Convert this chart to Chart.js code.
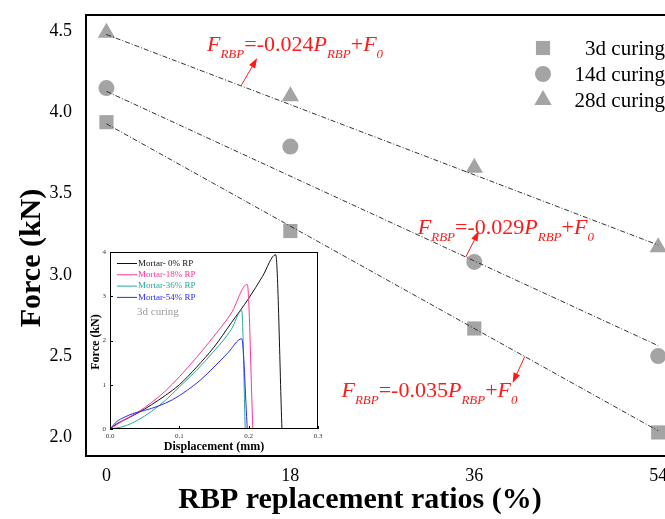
<!DOCTYPE html>
<html>
<head>
<meta charset="utf-8">
<script src="https://cdn.jsdelivr.net/npm/chart.js@4/dist/chart.umd.min.js"></script>
<style>
  html, body { margin: 0; padding: 0; background: #fff; overflow: hidden; width: 665px; height: 519px; }
  #wrap { position: relative; width: 705px; height: 519px; }
  #main { position: absolute; left: 0; top: 0; }
  #inset { position: absolute; left: 88px; top: 244px; }
</style>
</head>
<body>
<div id="wrap">
  <canvas id="main" width="705" height="519"></canvas>
  <canvas id="inset" width="234" height="212"></canvas>
</div>
<script>
// peak force (kN) against RBP replacement ratio (%), one series per curing age
const ratios = [0, 18, 36, 54];
const force3d = [3.94, 3.27, 2.67, 2.03];
const force14d = [4.15, 3.79, 3.08, 2.50];
const force28d = [4.49, 4.10, 3.66, 3.17];
const curingLabels = ['3d curing', '14d curing', '28d curing'];

// linear fits F = k * P + F0
const fitSlopes = [-0.035, -0.029, -0.024];
const fitIntercepts = [3.93, 4.13, 4.48];
const fitRange = [0, 54];
const slopeText = ['-0.035', '-0.029', '-0.024'];

const xTicks = [0, 18, 36, 54];
const yTicks = [2.0, 2.5, 3.0, 3.5, 4.0, 4.5];

// inset: load-displacement curves at 3d curing
const mixLabels = ['Mortar- 0% RP', 'Mortar-18% RP', 'Mortar-36% RP', 'Mortar-54% RP'];
const disp0 = [0, 0.01, 0.02, 0.04, 0.06, 0.08, 0.1, 0.125, 0.15, 0.175, 0.2, 0.22, 0.239, 0.248];
const load0 = [0, 0.12, 0.2, 0.36, 0.55, 0.76, 1.0, 1.4, 1.85, 2.4, 2.95, 3.45, 3.94, 0];
const disp18 = [0, 0.02, 0.04, 0.06, 0.08, 0.1, 0.125, 0.15, 0.175, 0.198, 0.206];
const load18 = [0, 0.2, 0.38, 0.6, 0.86, 1.18, 1.62, 2.1, 2.62, 3.27, 0];
const disp36 = [0, 0.02, 0.04, 0.06, 0.08, 0.1, 0.125, 0.15, 0.175, 0.19, 0.195];
const load36 = [0, 0.06, 0.2, 0.4, 0.65, 0.95, 1.33, 1.76, 2.25, 2.68, 0];
const disp54 = [0, 0.01, 0.02, 0.035, 0.05, 0.07, 0.09, 0.11, 0.13, 0.15, 0.17, 0.19, 0.198];
const load54 = [0, 0.17, 0.26, 0.36, 0.42, 0.52, 0.66, 0.86, 1.1, 1.4, 1.72, 2.04, 0];
const insetXTicks = [0, 0.1, 0.2, 0.3];
const insetYTicks = [0, 1, 2, 3, 4];

const SERIF = '"Liberation Serif", "Times New Roman", serif';
const MARK = '#a4a4a4';
const RED = '#ff1a1a';

const toPts = (xs, ys) => xs.map((x, i) => ({ x: x, y: ys[i] }));
const fitLine = i => fitRange.map(p => ({ x: p, y: fitIntercepts[i] + fitSlopes[i] * p }));

// keep label overhang from shrinking the plot area
const noPad = s => { s.paddingLeft = 0; s.paddingRight = 0; s.paddingTop = 0; s.paddingBottom = 0; };

const fitStyle = {
  showLine: true, pointRadius: 0, borderColor: '#333', borderWidth: 1,
  borderDash: [5, 2, 1, 2], order: 0
};

// equation labels: [P, F] of the text baseline, arrow tail and head
const eqPos = [[23.0, 2.246], [30.47, 3.25], [9.84, 4.377]];
const arrowTail = [[40.94, 2.497], [35.17, 3.11], [13.17, 4.164]];
const arrowHead = [[39.75, 2.335], [36.45, 3.27], [14.75, 4.335]];

function drawArrow(ctx, x1, y1, x2, y2) {
  const a = Math.atan2(y2 - y1, x2 - x1);
  const len = 10, w = 3.5;
  ctx.beginPath();
  ctx.moveTo(x1, y1);
  ctx.lineTo(x2 - Math.cos(a) * len * 0.8, y2 - Math.sin(a) * len * 0.8);
  ctx.stroke();
  ctx.beginPath();
  ctx.moveTo(x2, y2);
  ctx.lineTo(x2 - Math.cos(a) * len - Math.sin(a) * w, y2 - Math.sin(a) * len + Math.cos(a) * w);
  ctx.lineTo(x2 - Math.cos(a) * len + Math.sin(a) * w, y2 - Math.sin(a) * len - Math.cos(a) * w);
  ctx.closePath();
  ctx.fill();
}

function drawEquation(ctx, x, y, slope) {
  const parts = [
    { t: 'F', it: true }, { t: 'RBP', it: true, sub: true }, { t: '=' + slope },
    { t: 'P', it: true }, { t: 'RBP', it: true, sub: true }, { t: '+' },
    { t: 'F', it: true }, { t: '0', it: true, sub: true }
  ];
  ctx.textAlign = 'left';
  ctx.textBaseline = 'alphabetic';
  parts.forEach(p => {
    const size = p.sub ? 13 : 22;
    ctx.font = (p.it ? 'italic ' : '') + size + 'px ' + SERIF;
    ctx.fillText(p.t, x, p.sub ? y + 7 : y);
    x += ctx.measureText(p.t).width;
  });
}

const mainDecor = {
  id: 'mainDecor',
  afterDraw(chart) {
    const { ctx, chartArea: ca, scales } = chart;
    const sx = scales.x, sy = scales.y;
    ctx.save();

    // frame
    ctx.strokeStyle = '#000';
    ctx.lineWidth = 2;
    ctx.strokeRect(ca.left, ca.top, ca.right - ca.left, ca.bottom - ca.top);

    // legend
    const pointSets = chart.data.datasets.filter(d => !d.showLine);
    pointSets.forEach((d, i) => {
      const y = ca.top + 33 + i * 26;
      ctx.fillStyle = MARK;
      Chart.helpers.drawPoint(ctx, { pointStyle: d.pointStyle, radius: d.pointRadius, rotation: 0, borderWidth: 0 }, 543, y);
      ctx.fillStyle = '#000';
      ctx.font = '21px ' + SERIF;
      ctx.textAlign = 'right';
      ctx.textBaseline = 'middle';
      ctx.fillText(d.label, 665, y + 1);
    });

    // fit equations with arrows
    ctx.fillStyle = RED;
    ctx.strokeStyle = RED;
    ctx.lineWidth = 1;
    slopeText.forEach((s, i) => {
      drawEquation(ctx, sx.getPixelForValue(eqPos[i][0]), sy.getPixelForValue(eqPos[i][1]), s);
      drawArrow(ctx,
        sx.getPixelForValue(arrowTail[i][0]), sy.getPixelForValue(arrowTail[i][1]),
        sx.getPixelForValue(arrowHead[i][0]), sy.getPixelForValue(arrowHead[i][1]));
    });

    // axis titles
    ctx.fillStyle = '#000';
    ctx.font = 'bold 30px ' + SERIF;
    ctx.textAlign = 'center';
    ctx.textBaseline = 'middle';
    ctx.fillText('RBP replacement ratios (%)', 360, 500);
    ctx.translate(32, 258);
    ctx.rotate(-Math.PI / 2);
    ctx.fillText('Force (kN)', 0, 0);
    ctx.restore();
  }
};

new Chart(document.getElementById('main'), {
  type: 'scatter',
  data: {
    datasets: [
      Object.assign({ data: fitLine(0) }, fitStyle),
      Object.assign({ data: fitLine(1) }, fitStyle),
      Object.assign({ data: fitLine(2) }, fitStyle),
      { label: curingLabels[0], data: toPts(ratios, force3d), pointStyle: 'rect', pointRadius: 10,
        backgroundColor: MARK, borderWidth: 0, order: 1 },
      { label: curingLabels[1], data: toPts(ratios, force14d), pointStyle: 'circle', pointRadius: 8,
        backgroundColor: MARK, borderWidth: 0, order: 1 },
      { label: curingLabels[2], data: toPts(ratios, force28d), pointStyle: 'triangle', pointRadius: 10,
        backgroundColor: MARK, borderWidth: 0, order: 1 }
    ]
  },
  options: {
    responsive: false,
    animation: false,
    layout: { padding: { top: 15, right: 6, left: 0, bottom: 0 } },
    plugins: { legend: { display: false }, tooltip: { enabled: false } },
    scales: {
      x: {
        type: 'linear', min: -2, max: 57.6,
        grid: { display: false, drawTicks: false },
        border: { display: false },
        ticks: { font: { family: SERIF, size: 18 }, color: '#000', padding: 9, maxRotation: 0 },
        afterBuildTicks: s => { s.ticks = xTicks.map(v => ({ value: v })); },
        afterFit: s => { s.height = 63; noPad(s); }
      },
      y: {
        min: 1.885, max: 4.6,
        grid: { display: false, drawTicks: false },
        border: { display: false },
        ticks: { font: { family: SERIF, size: 18 }, color: '#000', padding: 14, callback: v => v.toFixed(1) },
        afterBuildTicks: s => { s.ticks = yTicks.map(v => ({ value: v })); },
        afterFit: s => { s.width = 86; noPad(s); }
      }
    }
  },
  plugins: [mainDecor]
});

// ---- inset ----
const insetColors = ['#111111', '#ff3399', '#2aa5a0', '#2a2aff'];

const insetDecor = {
  id: 'insetDecor',
  afterDraw(chart) {
    const { ctx, chartArea: ca, scales } = chart;
    ctx.save();
    ctx.strokeStyle = '#000';
    ctx.lineWidth = 1;
    ctx.strokeRect(ca.left + 0.5, ca.top + 0.5, ca.right - ca.left - 1, ca.bottom - ca.top - 1);
    // inward tick marks
    ctx.beginPath();
    insetXTicks.forEach(v => {
      const x = Math.round(scales.x.getPixelForValue(v)) + 0.5;
      ctx.moveTo(x, ca.bottom); ctx.lineTo(x, ca.bottom - 3);
    });
    insetYTicks.forEach(v => {
      const y = Math.round(scales.y.getPixelForValue(v)) + 0.5;
      ctx.moveTo(ca.left, y); ctx.lineTo(ca.left + 3, y);
    });
    ctx.stroke();

    // legend
    ctx.font = '9px ' + SERIF;
    ctx.textAlign = 'left';
    ctx.textBaseline = 'middle';
    mixLabels.forEach((lab, i) => {
      const y = ca.top + 11.5 + i * 11.3;
      ctx.strokeStyle = insetColors[i];
      ctx.beginPath();
      ctx.moveTo(ca.left + 7, y); ctx.lineTo(ca.left + 27, y);
      ctx.stroke();
      ctx.fillStyle = insetColors[i];
      ctx.fillText(lab, ca.left + 28, y);
    });
    ctx.fillStyle = '#9a9a9a';
    ctx.font = '11px ' + SERIF;
    ctx.fillText('3d curing', ca.left + 27, ca.top + 60);

    // axis titles
    ctx.fillStyle = '#000';
    ctx.font = 'bold 12px ' + SERIF;
    ctx.textAlign = 'center';
    ctx.fillText('Displacement (mm)', (ca.left + ca.right) / 2, 203);
    ctx.translate(8, 98);
    ctx.rotate(-Math.PI / 2);
    ctx.fillText('Force (kN)', 0, 0);
    ctx.restore();
  }
};

const curve = (i, xs, ys) => ({
  label: mixLabels[i], data: toPts(xs, ys), showLine: true, pointRadius: 0,
  borderColor: insetColors[i], borderWidth: 1, cubicInterpolationMode: 'monotone'
});

new Chart(document.getElementById('inset'), {
  type: 'scatter',
  data: {
    datasets: [
      curve(3, disp54, load54),
      curve(2, disp36, load36),
      curve(1, disp18, load18),
      curve(0, disp0, load0)
    ]
  },
  options: {
    responsive: false,
    animation: false,
    layout: { padding: { top: 8, right: 4, left: 0, bottom: 0 } },
    plugins: { legend: { display: false }, tooltip: { enabled: false } },
    scales: {
      x: {
        type: 'linear', min: 0, max: 0.3,
        grid: { display: false, drawTicks: false },
        border: { display: false },
        ticks: { font: { family: SERIF, size: 7 }, color: '#333', padding: 3, maxRotation: 0,
                 callback: v => v.toFixed(1) },
        afterBuildTicks: s => { s.ticks = insetXTicks.map(v => ({ value: v })); },
        afterFit: s => { s.height = 27; noPad(s); }
      },
      y: {
        min: 0, max: 4,
        grid: { display: false, drawTicks: false },
        border: { display: false },
        ticks: { font: { family: SERIF, size: 7 }, color: '#333', padding: 4 },
        afterBuildTicks: s => { s.ticks = insetYTicks.map(v => ({ value: v })); },
        afterFit: s => { s.width = 22; noPad(s); }
      }
    }
  },
  plugins: [insetDecor]
});
</script>
</body>
</html>
